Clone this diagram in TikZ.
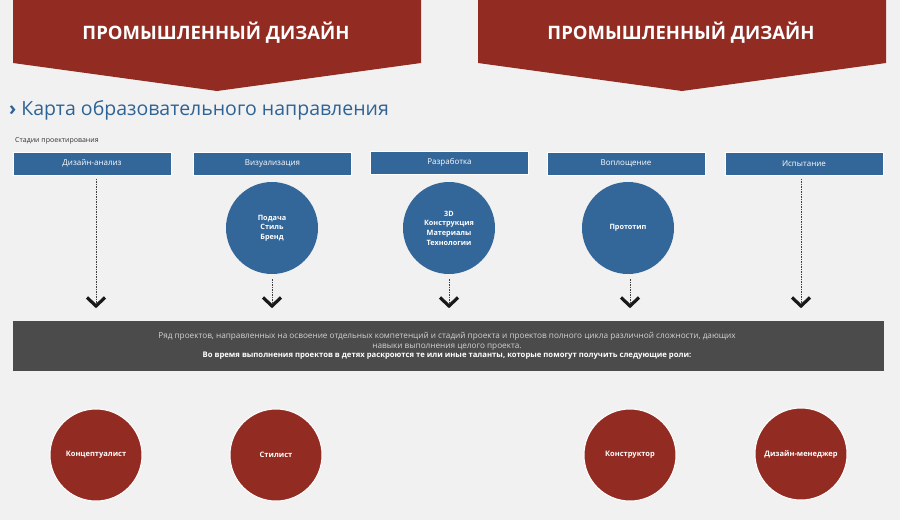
\documentclass[tikz,border=0pt]{standalone}
\usepackage{fontspec}
\setmainfont{Open Sans}
\definecolor{bgc}{HTML}{F1F1F1}
\definecolor{redc}{HTML}{922B21}
\definecolor{bluec}{HTML}{336699}
\definecolor{headc}{HTML}{2F6395}
\definecolor{bandc}{HTML}{4B4B4B}
\definecolor{bandtxt}{HTML}{D2D2D2}
\tikzset{
  banner/.style={fill=redc},
  bannertext/.style={text=white, font=\fontsize{18.5}{22}\selectfont\bfseries},
  stagebox/.style={fill=bluec, draw=white, line width=1pt, minimum width=158pt, minimum height=23pt, inner sep=0pt, text=white, font=\fontsize{8}{9.5}\selectfont},
  bluecirc/.style={circle, fill=bluec, minimum size=92pt, inner sep=0pt, text=white, align=center, font=\fontsize{7.3}{9.7}\selectfont\bfseries},
  rolecirc/.style={circle, fill=redc, draw=white, line width=1pt, minimum size=92pt, inner sep=0pt, text=white, align=center, font=\fontsize{7.5}{9}\selectfont\bfseries},
  dashconn/.style={draw=black!75, line width=0.6pt, dash pattern=on 1.5pt off 1pt},
  chev/.style={draw=black!90, line width=3.2pt, line join=miter},
}
\begin{document}
\begin{tikzpicture}[x=1pt,y=-1pt]
\useasboundingbox (0,0) rectangle (900,520);
\fill[bgc] (0,0) rectangle (900,520);

% banners
\fill[banner] (13,0) -- (421,0) -- (421,63) -- (217,91) -- (13,63) -- cycle;
\fill[banner] (478,0) -- (886,0) -- (886,63) -- (682,91) -- (478,63) -- cycle;
\node[bannertext] (t1) at (216,33) {ПРОМЫШЛЕННЫЙ ДИЗАЙН};
\node[bannertext] (t2) at (681,33) {ПРОМЫШЛЕННЫЙ ДИЗАЙН};

% header
\node[anchor=west, inner sep=0pt, text=headc, font=\fontsize{19.5}{22}\selectfont\bfseries] (head) at (9,110) {› \mdseries Карта образовательного направления};
\node[anchor=west, inner sep=0pt, text=black!80, font=\fontsize{7}{8}\selectfont] (stl) at (15,141) {Стадии проектирования};

% stage boxes
\node[stagebox] (b1) at (92,163.5) {Дизайн-анализ};
\node[stagebox] (b2) at (272.5,163.5) {Визуализация};
\node[stagebox] (b3) at (449.5,162.5) {Разработка};
\node[stagebox] (b4) at (626,163.5) {Воплощение};
\node[stagebox] (b5) at (804,163.5) {Испытание};

% blue circles
\node[bluecirc] (c2) at (272,228) {Подача\\Стиль\\Бренд};
\node[bluecirc] (c3) at (449,228) {3D\\Конструкция\\Материалы\\Технологии};
\node[bluecirc] (c4) at (628,228) {Прототип};

% chevron tips
\coordinate (k1) at (96,306);
\coordinate (k2) at (272,306);
\coordinate (k3) at (449,306);
\coordinate (k4) at (630,306);
\coordinate (k5) at (801,306);

% dashed connectors
\draw[dashconn] (k1 |- b1.south) ++(0,3) -- (k1);
\draw[dashconn] (k2 |- c2.south) ++(0,5) -- (k2);
\draw[dashconn] (k3 |- c3.south) ++(0,5) -- (k3);
\draw[dashconn] (k4 |- c4.south) ++(0,5) -- (k4);
\draw[dashconn] (k5 |- b5.south) ++(0,3) -- (k5);

% chevrons
\foreach \k in {k1,k2,k3,k4,k5}{
  \draw[chev] ([xshift=-9pt,yshift=8.5pt]\k) -- (\k) -- ([xshift=9pt,yshift=8.5pt]\k);
}

% grey band
\fill[bandc] (13,321) rectangle (884,371);
\node[align=center, inner sep=0pt, text=bandtxt, font=\fontsize{8.2}{9.3}\selectfont\mdseries] (band) at (447,346) {Ряд проектов, направленных на освоение отдельных компетенций и стадий проекта и проектов полного цикла различной сложности, дающих\\навыки выполнения целого проекта.\\\textcolor{white}{\fontsize{7.7}{9.3}\selectfont\bfseries Во время выполнения проектов в детях раскроются те или иные таланты, которые помогут получить следующие роли:}};

% role circles
\node[rolecirc] (r1) at (96,455) {Концептуалист};
\node[rolecirc] (r2) at (276,455) {Стилист};
\node[rolecirc] (r3) at (630,455) {Конструктор};
\node[rolecirc] (r4) at (801,454) {Дизайн-менеджер};
\end{tikzpicture}
\end{document}
